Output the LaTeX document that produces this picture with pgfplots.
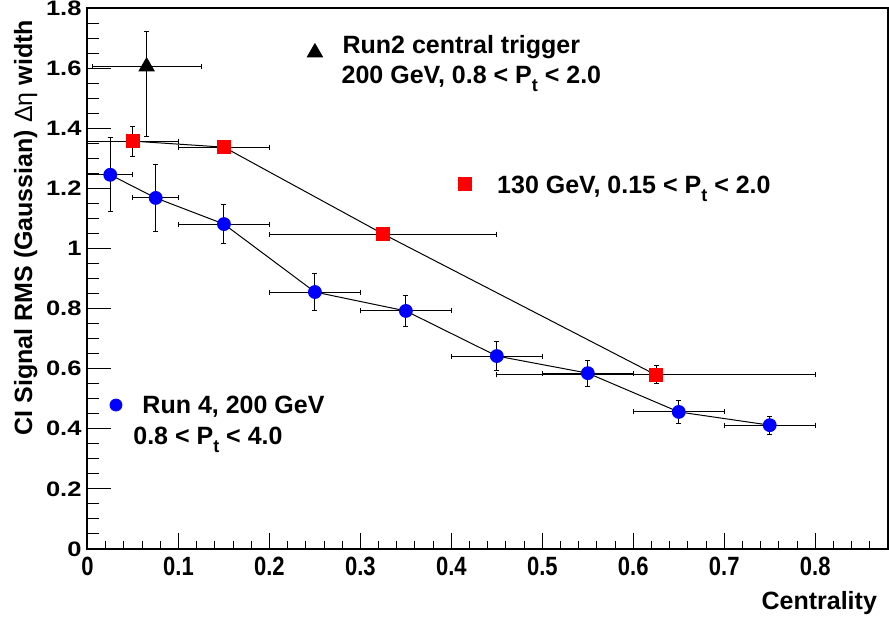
\documentclass[border=0pt]{standalone}
\usepackage{pgfplots}
\pgfplotsset{compat=1.18}
\usepackage{fontspec}
\setmainfont{Liberation Sans}
\newcommand{\Pt}{P\raisebox{-4pt}{\fontsize{9}{9}\selectfont t}}
\begin{document}
\begin{tikzpicture}
\useasboundingbox (-43.75pt,-35pt) rectangle (400.75pt,274.5pt);
\begin{axis}[
  at={(0,0)}, anchor=south west,
  scale only axis, width=400.25pt, height=270.5pt,
  xmin=0, xmax=0.88, ymin=0, ymax=1.8,
  axis line style={line width=1pt},
  tick align=inside, xtick pos=bottom, ytick pos=left,
  xtick={0,0.1,0.2,0.3,0.4,0.5,0.6,0.7,0.8},
  minor xtick={0.02,0.04,0.06,0.08,0.12,0.14,0.16,0.18,0.22,0.24,0.26,0.28,0.32,0.34,0.36,0.38,0.42,0.44,0.46,0.48,0.52,0.54,0.56,0.58,0.62,0.64,0.66,0.68,0.72,0.74,0.76,0.78,0.82,0.84,0.86},
  ytick={0,0.2,0.4,0.6,0.8,1,1.2,1.4,1.6,1.8},
  minor ytick={0.05,0.1,0.15,0.25,0.3,0.35,0.45,0.5,0.55,0.65,0.7,0.75,0.85,0.9,0.95,1.05,1.1,1.15,1.25,1.3,1.35,1.45,1.5,1.55,1.65,1.7,1.75},
  every tick/.style={black, line width=0.5pt},
  xtick style={/pgfplots/major tick length=8pt, /pgfplots/minor tick length=4pt},
  ytick style={/pgfplots/major tick length=12pt, /pgfplots/minor tick length=6pt},
  /pgf/number format/assume math mode=true,
  ticklabel style={font=\fontsize{11}{11}\selectfont\bfseries, inner sep=0pt},
  xticklabel style={anchor=north, yshift=-4pt, yscale=1.2},
  yticklabel style={anchor=east, xshift=-2.75pt, xscale=1.16, yscale=0.95},
  xlabel={Centrality},
  ylabel={CI Signal RMS (Gaussian) {\mdseries Δη} width},
  label style={font=\fontsize{12.5}{12.5}\selectfont\bfseries},
  xlabel style={at={(axis description cs:1,0)}, anchor=base east, yshift=-30.5pt, xshift=-2pt},
  ylabel style={at={(axis description cs:-0.0693,0.9908)}, anchor=base east},
  clip=false,
]
% Red squares: 130 GeV
\addplot[black, line width=0.5pt, mark=square*, mark size=3.1pt,
  mark options={draw=red, fill=red},
  error bars/.cd, x dir=both, x explicit, y dir=both, y explicit,
  error bar style={black, line width=0.5pt},
  error mark options={black, rotate=90, mark size=1.25pt, line width=0.5pt}]
  coordinates {
  (0.05,1.357) +- (0.05,0.05)
  (0.15,1.337) +- (0.05,0.0)
  (0.325,1.048) +- (0.125,0.0)
  (0.625,0.579) +- (0.175,0.03)
  };
% Blue circles: Run 4
\addplot[black, line width=0.5pt, mark=*, mark size=3.2pt,
  mark options={draw=blue, fill=blue},
  error bars/.cd, x dir=both, x explicit, y dir=both, y explicit,
  error bar style={black, line width=0.5pt},
  error mark options={black, rotate=90, mark size=1.25pt, line width=0.5pt}]
  coordinates {
  (0.025,1.245) +- (0.025,0.123)
  (0.075,1.168) +- (0.025,0.11)
  (0.15,1.081) +- (0.05,0.066)
  (0.25,0.855) +- (0.05,0.06)
  (0.35,0.792) +- (0.05,0.053)
  (0.45,0.642) +- (0.05,0.049)
  (0.55,0.585) +- (0.05,0.043)
  (0.65,0.456) +- (0.05,0.038)
  (0.75,0.412) +- (0.05,0.03)
  };
% Black triangle: Run2 central trigger
\addplot[only marks, mark=triangle*, mark size=4.4pt, mark options={draw=black, fill=black},
  error bars/.cd, x dir=both, x explicit, y dir=both, y explicit,
  error bar style={black, line width=0.5pt},
  error mark options={black, rotate=90, mark size=1.25pt, line width=0.5pt}]
  coordinates {
  (0.065,1.605) += (0.06,0.116) -= (0.06,0.233)
  };
% legend markers
\addplot[only marks, mark=triangle*, mark size=4.4pt, mark options={draw=black, fill=black}] coordinates {(0.250,1.652)};
\addplot[only marks, mark=square*, mark size=3.2pt, mark options={draw=red, fill=red}] coordinates {(0.415,1.214)};
\addplot[only marks, mark=*, mark size=3pt, mark options={draw=blue, fill=blue}] coordinates {(0.0313,0.479)};
% annotation texts
\node[anchor=base west, inner sep=0pt, font=\fontsize{12.5}{12.5}\selectfont\bfseries] at (axis cs:0.280,1.650) {Run2 central trigger};
\node[anchor=base west, inner sep=0pt, font=\fontsize{12.5}{12.5}\selectfont\bfseries] at (axis cs:0.279,1.550) {200 GeV, 0.8 < \Pt{} < 2.0};
\node[anchor=base west, inner sep=0pt, font=\fontsize{12.5}{12.5}\selectfont\bfseries] at (axis cs:0.450,1.184) {130 GeV, 0.15 < \Pt{} < 2.0};
\node[anchor=base west, inner sep=0pt, font=\fontsize{12.5}{12.5}\selectfont\bfseries] at (axis cs:0.060,0.452) {Run 4, 200 GeV};
\node[anchor=base west, inner sep=0pt, font=\fontsize{12.5}{12.5}\selectfont\bfseries] at (axis cs:0.050,0.349) {0.8 < \Pt{} < 4.0};
\end{axis}
\end{tikzpicture}
\end{document}
